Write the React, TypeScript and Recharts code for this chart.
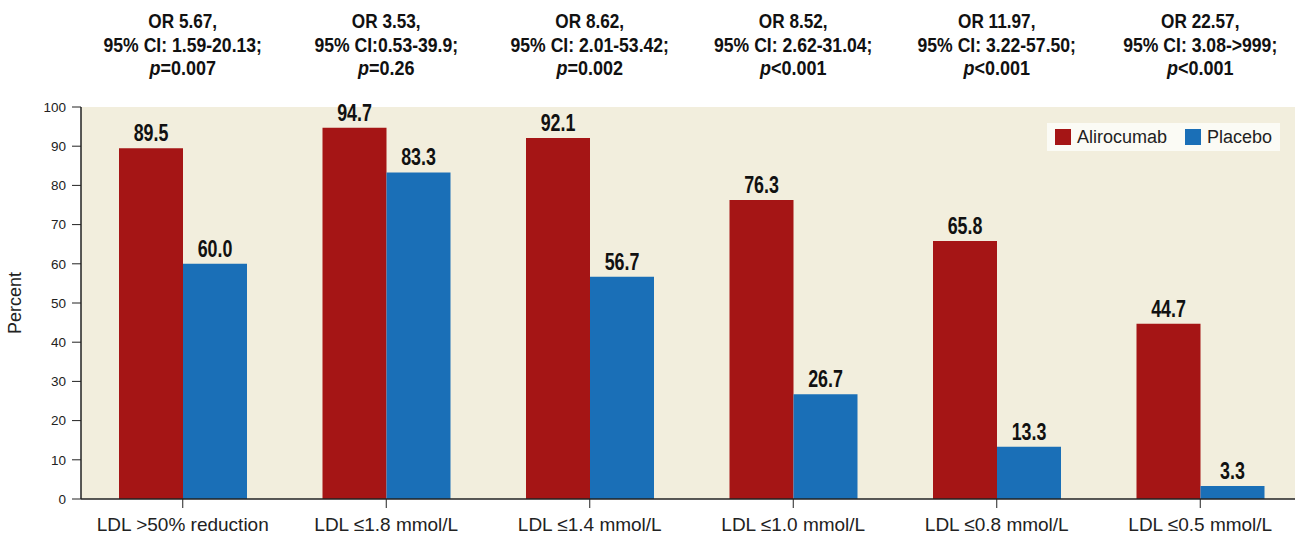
import React from 'react';
import { BarChart, Bar, XAxis, YAxis, CartesianGrid, Legend, LabelList } from 'recharts';

const categories = [
  'LDL >50% reduction',
  'LDL ≤1.8 mmol/L',
  'LDL ≤1.4 mmol/L',
  'LDL ≤1.0 mmol/L',
  'LDL ≤0.8 mmol/L',
  'LDL ≤0.5 mmol/L',
];
const alirocumab = [89.5, 94.7, 92.1, 76.3, 65.8, 44.7];
const placebo = [60.0, 83.3, 56.7, 26.7, 13.3, 3.3];

const oddsRatios = ['OR 5.67,', 'OR 3.53,', 'OR 8.62,', 'OR 8.52,', 'OR 11.97,', 'OR 22.57,'];
const confidence = [
  '95% CI: 1.59-20.13;',
  '95% CI:0.53-39.9;',
  '95% CI: 2.01-53.42;',
  '95% CI: 2.62-31.04;',
  '95% CI: 3.22-57.50;',
  '95% CI: 3.08->999;',
];
const pValues = ['=0.007', '=0.26', '=0.002', '<0.001', '<0.001', '<0.001'];

const yTicks = [0, 10, 20, 30, 40, 50, 60, 70, 80, 90, 100];

const RED = '#a51515';
const BLUE = '#1a6fb7';
const INK = '#111';
const SANS = '"Liberation Sans", Arial, sans-serif';
const LEGEND_H = 28;

const data = categories.map((name, i) => ({
  name,
  alirocumab: alirocumab[i],
  placebo: placebo[i],
}));

// no condensed face installed, so squeeze the bold text horizontally
const Squeezed = ({ x, y, sx, size, children }: any) => (
  <text
    transform={`translate(${x},${y}) scale(${sx},1)`}
    textAnchor="middle"
    fontFamily={SANS}
    fontWeight={700}
    fontSize={size}
    fill={INK}
  >
    {children}
  </text>
);

// three-line odds ratio note above each group
const StatsTick = (props: any) => {
  const { x, payload } = props;
  const i = payload.index;
  return (
    <g>
      <Squeezed x={x} y={28} sx={0.86} size={20}>{oddsRatios[i]}</Squeezed>
      <Squeezed x={x} y={52} sx={0.88} size={20}>{confidence[i]}</Squeezed>
      <Squeezed x={x} y={75} sx={0.9} size={20}>
        <tspan fontStyle="italic">p</tspan>
        <tspan>{pValues[i]}</tspan>
      </Squeezed>
    </g>
  );
};

const ValueLabel = (props: any) => {
  const { x, y, width, value } = props;
  return (
    <Squeezed x={Number(x) + Number(width) / 2} y={Number(y) - 7} sx={0.76} size={23.5}>
      {Number(value).toFixed(1)}
    </Squeezed>
  );
};

const LegendBox = (props: any) => {
  const items = props.payload || [];
  return (
    <div
      style={{
        display: 'flex',
        alignItems: 'center',
        height: LEGEND_H,
        padding: '0 8px',
        background: '#fbfbf5',
        fontFamily: SANS,
        fontSize: 18,
        color: '#222',
      }}
    >
      {items.map((it: any, k: number) => (
        <span key={k} style={{ display: 'flex', alignItems: 'center', marginRight: k === 0 ? 18 : 0 }}>
          <span style={{ width: 16, height: 16, background: it.color, marginRight: 6, display: 'inline-block' }} />
          {it.value}
        </span>
      ))}
    </div>
  );
};

export default function App() {
  return (
    <div style={{ width: 1295, height: 539, overflow: 'hidden' }}>
      <style>{'body{margin:0}'}</style>
      <BarChart
        width={1302}
        height={539}
        data={data}
        margin={{ top: 0, right: 0, bottom: 0, left: 0 }}
        barGap={0}
        barSize={64}
      >
        <CartesianGrid horizontal={false} vertical={false} fill="#f2eedd" />
        <XAxis
          xAxisId="stats"
          dataKey="name"
          orientation="top"
          height={107 - LEGEND_H}
          axisLine={false}
          tickLine={false}
          tick={<StatsTick />}
          interval={0}
        />
        <XAxis
          dataKey="name"
          height={40}
          interval={0}
          tickSize={9}
          tickMargin={10}
          axisLine={{ stroke: '#222', strokeWidth: 1.5 }}
          tickLine={{ stroke: '#222' }}
          tick={{ fontFamily: SANS, fontSize: 19, fill: '#222' }}
        />
        <YAxis
          width={81}
          domain={[0, 100]}
          ticks={yTicks}
          tickSize={9}
          tickMargin={6}
          axisLine={{ stroke: '#222', strokeWidth: 1.5 }}
          tickLine={{ stroke: '#222' }}
          tick={{ fontFamily: SANS, fontSize: 13.5, fill: '#222' }}
          label={{
            value: 'Percent',
            angle: -90,
            position: 'insideLeft',
            offset: 15,
            style: { fontFamily: SANS, fontSize: 18, fill: '#222', textAnchor: 'middle' },
          }}
        />
        <Legend
          verticalAlign="top"
          content={<LegendBox />}
          wrapperStyle={{ position: 'absolute', left: 1047, top: 123, width: 'auto' }}
        />
        <Bar dataKey="alirocumab" name="Alirocumab" fill={RED} isAnimationActive={false}>
          <LabelList dataKey="alirocumab" content={<ValueLabel />} />
        </Bar>
        <Bar dataKey="placebo" name="Placebo" fill={BLUE} isAnimationActive={false}>
          <LabelList dataKey="placebo" content={<ValueLabel />} />
        </Bar>
      </BarChart>
    </div>
  );
}
